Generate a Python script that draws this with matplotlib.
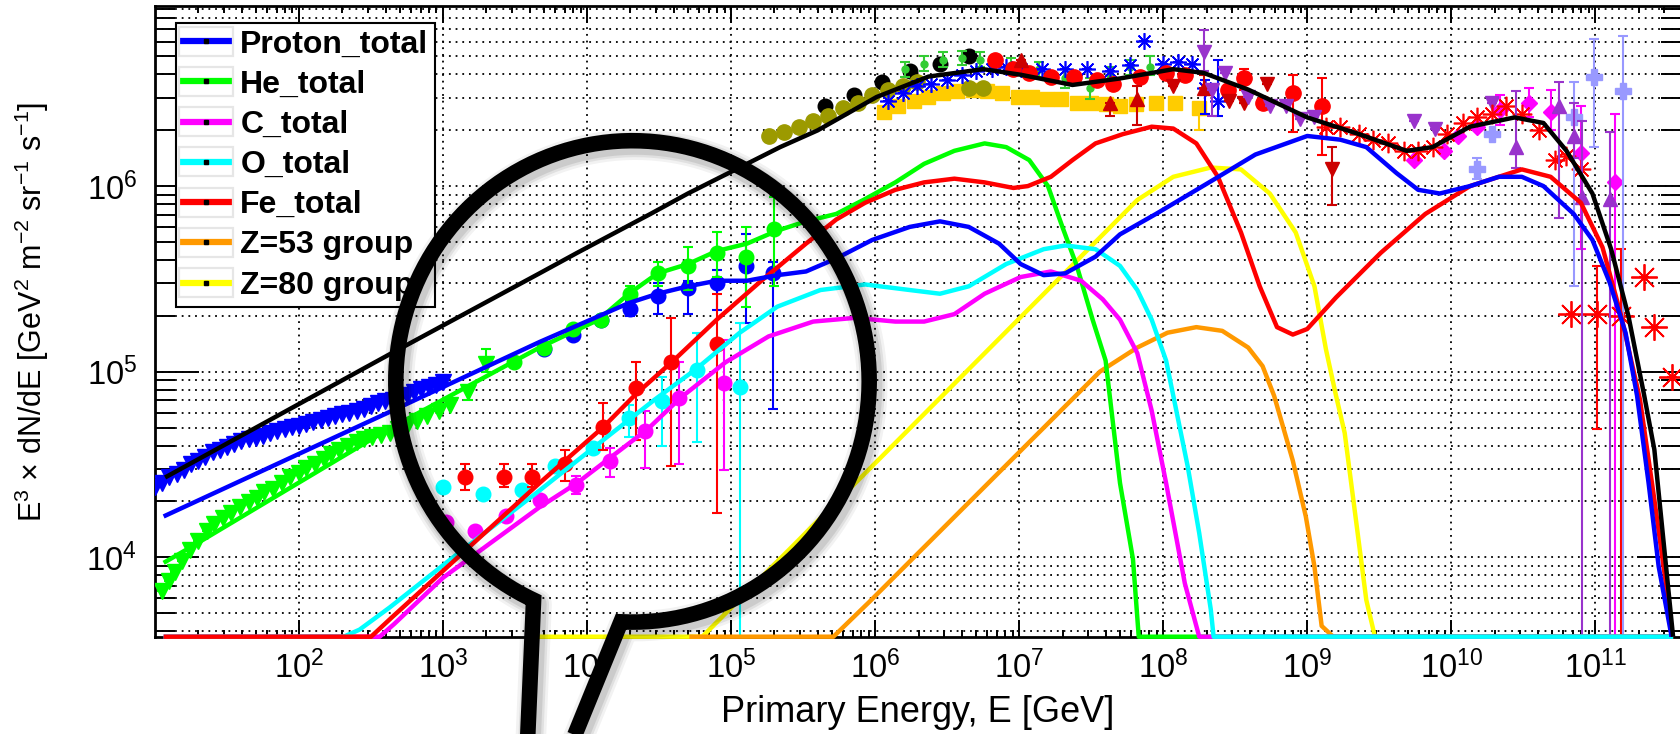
import numpy as np
import matplotlib
matplotlib.use("Agg")
import matplotlib.pyplot as plt
from matplotlib.lines import Line2D
from matplotlib.patches import Rectangle
from matplotlib.ticker import FixedLocator, LogLocator, LogFormatterMathtext, NullFormatter

plt.rcParams["font.family"] = ["Liberation Sans", "DejaVu Sans"]
plt.rcParams["mathtext.default"] = "regular"

# ---------------------------------------------------------------
# Values are log10(E / GeV) and log10(E^3 dN/dE / GeV^2 m^-2 sr^-1 s^-1)
# ---------------------------------------------------------------
FLOOR = 3.572          # lower edge of the flux axis
TOP = 6.972            # upper edge of the flux axis
EMIN, EMAX = 1.0, 11.595

# ----- model curves -----
TOTAL_LOGE = [1.07, 2.62, 3.67, 3.93, 4.44, 4.70, 5.11, 5.34, 5.60, 6.01, 6.37, 6.75, 7.01, 7.37,
              7.70, 8.07, 8.28, 8.59, 9.00, 9.36, 9.69, 9.87, 10.13, 10.44, 10.64, 10.80, 10.98,
              11.11, 11.23, 11.34, 11.41, 11.54]
TOTAL_LOGF = [4.43, 5.09, 5.53, 5.64, 5.85, 5.96, 6.12, 6.21, 6.30, 6.48, 6.59, 6.63, 6.60, 6.545,
              6.58, 6.63, 6.61, 6.52, 6.37, 6.28, 6.19, 6.21, 6.32, 6.37, 6.34, 6.19, 5.96,
              5.66, 5.30, 4.87, 4.58, FLOOR]

PROTON_LOGE = [1.06, 2.62, 3.67, 4.29, 4.49, 4.70, 4.90, 5.11, 5.32, 5.52, 5.73, 5.98, 6.24, 6.45,
               6.65, 6.86, 7.01, 7.17, 7.32, 7.53, 7.70, 7.95, 8.34, 8.64, 9.00, 9.23, 9.41, 9.62,
               9.77, 9.92, 10.13, 10.33, 10.49, 10.64, 10.85, 10.98, 11.10, 11.21, 11.29, 11.37,
               11.44, 11.53]
PROTON_LOGF = [4.22, 4.78, 5.16, 5.37, 5.42, 5.46, 5.49, 5.49, 5.52, 5.54, 5.61, 5.71, 5.78, 5.81,
               5.78, 5.69, 5.58, 5.52, 5.53, 5.62, 5.74, 5.85, 6.03, 6.17, 6.27, 6.25, 6.21, 6.07,
               5.98, 5.96, 6.00, 6.05, 6.05, 6.00, 5.85, 5.71, 5.48, 5.21, 4.87, 4.40,
               3.95, FLOOR]

HELIUM_LOGE = [1.06, 1.26, 2.62, 3.67, 4.08, 4.29, 4.49, 4.70, 4.90, 5.11, 5.32, 5.52, 5.73, 5.93,
               6.14, 6.34, 6.55, 6.76, 6.91, 7.07, 7.20, 7.30, 7.40, 7.51, 7.60, 7.70, 7.79, 7.83,
               11.54]
HELIUM_LOGF = [3.97, 4.06, 4.69, 5.13, 5.28, 5.42, 5.53, 5.58, 5.65, 5.69, 5.76, 5.81, 5.85, 5.93,
               6.02, 6.12, 6.19, 6.23, 6.21, 6.14, 6.00, 5.78, 5.57, 5.28, 5.06, 4.40, 3.99, FLOOR,
               FLOOR]

CARBON_LOGE = [1.06, 2.56, 2.66, 3.00, 3.67, 3.93, 4.42, 4.65, 4.96, 5.26, 5.57, 5.86, 6.14, 6.34,
               6.55, 6.76, 7.01, 7.22, 7.43, 7.58, 7.70, 7.82, 7.92, 8.02, 8.15, 8.25, 11.54]
CARBON_LOGF = [FLOOR, FLOOR, 3.64, 3.89, 4.27, 4.40, 4.69, 4.86, 5.05, 5.19, 5.27, 5.29, 5.27, 5.27,
               5.31, 5.42, 5.51, 5.54, 5.49, 5.39, 5.28, 5.10, 4.79, 4.40, 3.86, FLOOR, FLOOR]

OXYGEN_LOGE = [1.06, 2.31, 2.42, 2.63, 3.07, 3.67, 4.06, 4.47, 4.75, 5.06, 5.32, 5.62, 5.93, 6.24,
               6.45, 6.65, 6.91, 7.17, 7.32, 7.53, 7.70, 7.82, 7.92, 8.02, 8.07, 8.17, 8.25, 8.33,
               8.35, 11.54]
OXYGEN_LOGF = [FLOOR, FLOOR, 3.61, 3.73, 4.00, 4.36, 4.60, 4.85, 5.01, 5.21, 5.35, 5.44, 5.47, 5.44,
               5.42, 5.46, 5.58, 5.66, 5.68, 5.66, 5.57, 5.44, 5.28, 5.06, 4.87, 4.49, 4.13, 3.72,
               FLOOR, FLOOR]

IRON_LOGE = [1.06, 2.50, 2.65, 3.67, 4.11, 4.34, 4.60, 4.90, 5.21, 5.52, 5.73, 5.93, 6.14, 6.34,
             6.55, 6.76, 6.96, 7.06, 7.22, 7.37, 7.53, 7.72, 7.92, 8.07, 8.23, 8.38, 8.54, 8.67,
             8.79, 8.90, 9.00, 9.20, 9.51, 9.82, 10.13, 10.49, 10.69, 10.90, 11.05, 11.18, 11.31,
             11.41, 11.49, 11.53]
IRON_LOGF = [FLOOR, FLOOR, 3.68, 4.40, 4.70, 4.88, 5.06, 5.28, 5.49, 5.69, 5.82, 5.91, 5.98, 6.02,
             6.04, 6.02, 5.99, 6.00, 6.05, 6.14, 6.23, 6.28, 6.32, 6.31, 6.23, 6.05, 5.75, 5.46,
             5.24, 5.20, 5.23, 5.40, 5.64, 5.85, 6.00, 6.09, 6.05, 5.91, 5.67, 5.30, 4.85,
             4.31, 3.86, FLOOR]

Z53_LOGE = [4.71, 5.71, 5.96, 7.56, 7.82, 8.03, 8.23, 8.41, 8.59, 8.69, 8.77, 8.90, 8.99, 9.05,
            9.10, 9.18, 11.54]
Z53_LOGF = [FLOOR, FLOOR, 3.76, 5.00, 5.13, 5.21, 5.24, 5.22, 5.13, 5.03, 4.87, 4.52, 4.22, 3.95,
            3.63, FLOOR, FLOOR]

Z80_LOGE = [3.60, 4.80, 7.82, 8.07, 8.33, 8.54, 8.74, 8.92, 9.05, 9.13, 9.20, 9.26, 9.33, 9.41,
            9.47, 11.54]
Z80_LOGF = [FLOOR, FLOOR, 5.925, 6.05, 6.10, 6.09, 5.96, 5.75, 5.46, 5.12, 4.87, 4.67, 4.25, 3.77,
            FLOOR, FLOOR]

# ----- measurements -----
P_TRI_LOGE = [1.00, 1.05, 1.10, 1.15, 1.20, 1.25, 1.30, 1.35, 1.40, 1.45, 1.50, 1.55, 1.60, 1.65,
              1.70, 1.75, 1.80, 1.85, 1.90, 1.95, 2.00, 2.05, 2.10, 2.15, 2.20, 2.25, 2.30, 2.35,
              2.40, 2.45, 2.50, 2.55, 2.60, 2.65, 2.70, 2.75, 2.80, 2.85, 2.90, 2.95, 3.00]
P_TRI_LOGF = [4.38, 4.40, 4.43, 4.45, 4.47, 4.50, 4.52, 4.54, 4.565, 4.58, 4.595, 4.61, 4.625, 4.635,
              4.645, 4.655, 4.67, 4.68, 4.69, 4.70, 4.71, 4.72, 4.73, 4.74, 4.75, 4.76, 4.77, 4.78,
              4.79, 4.80, 4.815, 4.83, 4.84, 4.85, 4.865, 4.875, 4.89, 4.905, 4.92, 4.93, 4.945]

HE_TRI_LOGE = [1.05, 1.10, 1.14, 1.19, 1.24, 1.30, 1.36, 1.41, 1.47, 1.53, 1.59, 1.65, 1.71, 1.76,
               1.82, 1.88, 1.94, 2.00, 2.05, 2.11, 2.17, 2.22, 2.28, 2.34, 2.40, 2.45, 2.51, 2.57,
               2.63, 2.69, 2.75, 2.82, 2.89, 2.97, 3.05, 3.17, 3.30]
HE_TRI_LOGF = [3.82, 3.87, 3.92, 3.98, 4.04, 4.09, 4.14, 4.18, 4.21, 4.24, 4.27, 4.30, 4.32, 4.35,
               4.37, 4.40, 4.43, 4.455, 4.48, 4.505, 4.53, 4.555, 4.58, 4.60, 4.62, 4.635, 4.65, 4.66,
               4.67, 4.69, 4.71, 4.735, 4.76, 4.79, 4.82, 4.89, 5.04]
HE_TRI_LO = HE_TRI_LOGF[:-2] + [4.85, 5.00]
HE_TRI_HI = HE_TRI_LOGF[:-2] + [4.92, 5.12]

P_DIR_LOGE = [3.70, 3.90, 4.10, 4.30, 4.49, 4.70, 4.90, 5.10, 5.29]
P_DIR_LOGF = [5.12, 5.20, 5.28, 5.34, 5.41, 5.45, 5.48, 5.57, 5.53]
P_DIR_LO = [5.12, 5.20, 5.28, 5.30, 5.31, 5.31, 5.33, 5.26, 4.80]
P_DIR_HI = [5.12, 5.20, 5.28, 5.38, 5.48, 5.49, 5.55, 5.74, 5.59]

HE_DIR_LOGE = [3.49, 3.70, 3.90, 4.10, 4.30, 4.49, 4.70, 4.90, 5.10, 5.30]
HE_DIR_LOGF = [5.05, 5.13, 5.23, 5.28, 5.42, 5.53, 5.57, 5.64, 5.62, 5.77]
HE_DIR_LO = [5.05, 5.13, 5.23, 5.28, 5.39, 5.46, 5.44, 5.51, 5.35, 5.46]
HE_DIR_HI = [5.05, 5.13, 5.23, 5.28, 5.46, 5.59, 5.67, 5.75, 5.78, 5.94]

FE_DIR_LOGE = [3.15, 3.42, 3.62, 3.85, 4.11, 4.34, 4.58, 4.90]
FE_DIR_LOGF = [4.43, 4.43, 4.43, 4.50, 4.70, 4.91, 5.05, 5.15]
FE_DIR_LO = [4.36, 4.38, 4.38, 4.41, 4.58, 4.63, 4.49, 4.24]
FE_DIR_HI = [4.50, 4.50, 4.50, 4.58, 4.83, 5.05, 5.29, 5.42]

O_DIR_LOGE = [3.00, 3.28, 3.55, 3.78, 4.04, 4.29, 4.52, 4.76, 5.06]
O_DIR_LOGF = [4.38, 4.34, 4.36, 4.49, 4.59, 4.75, 4.84, 5.01, 4.92]
O_DIR_LO = [4.38, 4.34, 4.36, 4.49, 4.59, 4.65, 4.60, 4.62, 3.00]
O_DIR_HI = [4.38, 4.34, 4.36, 4.49, 4.59, 4.82, 4.97, 5.21, 5.26]

C_DIR_LOGE = [3.02, 3.22, 3.44, 3.67, 3.92, 4.16, 4.40, 4.64, 4.95]
C_DIR_LOGF = [4.19, 4.14, 4.22, 4.31, 4.39, 4.52, 4.68, 4.86, 4.94]
C_DIR_LO = [4.19, 4.14, 4.22, 4.31, 4.34, 4.43, 4.48, 4.50, 4.47]
C_DIR_HI = [4.19, 4.14, 4.22, 4.31, 4.44, 4.59, 4.79, 5.05, 5.17]

OLIVE_LOGE = [5.26, 5.37, 5.47, 5.57, 5.67, 5.78, 5.88, 5.98, 6.09, 6.19, 6.29, 6.65, 6.75]
OLIVE_LOGF = [6.27, 6.29, 6.32, 6.35, 6.38, 6.42, 6.45, 6.49, 6.52, 6.54, 6.56, 6.53, 6.53]

BLACKDOT_LOGE = [5.65, 5.85, 6.05, 6.24, 6.45, 6.65]
BLACKDOT_LOGF = [6.43, 6.49, 6.56, 6.62, 6.66, 6.70]

GOLD_LOGE = [6.06, 6.16, 6.27, 6.37, 6.47, 6.57, 6.68, 6.78, 6.88, 6.99, 7.09, 7.19, 7.29, 7.40,
             7.50, 7.60, 7.70, 7.81, 7.95, 8.08, 8.25]
GOLD_LOGF = [6.40, 6.43, 6.46, 6.48, 6.50, 6.51, 6.52, 6.51, 6.50, 6.48, 6.48, 6.47, 6.47, 6.45,
             6.45, 6.44, 6.43, 6.44, 6.45, 6.45, 6.42]
GOLD_LO = [6.40, 6.43, 6.46, 6.48, 6.50, 6.51, 6.52, 6.51, 6.50, 6.48, 6.48, 6.47, 6.47, 6.45,
           6.45, 6.44, 6.43, 6.44, 6.45, 6.45, 6.30]
GOLD_HI = GOLD_LOGF

LIME_LOGE = [6.21, 6.34, 6.47, 6.60, 6.73, 6.94, 7.14, 7.32, 7.49, 7.63, 7.77, 7.91]
LIME_LOGF = [6.63, 6.66, 6.68, 6.69, 6.68, 6.65, 6.63, 6.58, 6.53, 6.60, 6.64, 6.64]
LIME_LO = [6.59, 6.62, 6.64, 6.65, 6.64, 6.61, 6.59, 6.53, 6.47, 6.56, 6.60, 6.60]
LIME_HI = [6.67, 6.70, 6.72, 6.73, 6.72, 6.69, 6.67, 6.63, 6.58, 6.64, 6.68, 6.70]

BSTAR_LOGE = [6.09, 6.19, 6.29, 6.39, 6.50, 6.60, 6.70, 6.81, 6.91, 7.01, 7.16, 7.32, 7.47, 7.63,
              7.77, 7.87, 8.00, 8.10, 8.20, 8.29, 8.38]
BSTAR_LOGF = [6.46, 6.50, 6.54, 6.55, 6.57, 6.60, 6.62, 6.63, 6.64, 6.63, 6.63, 6.63, 6.63, 6.62,
              6.65, 6.78, 6.66, 6.67, 6.66, 6.53, 6.46]
BSTAR_LO = BSTAR_LOGF[:-2] + [6.39, 6.38]
BSTAR_HI = BSTAR_LOGF[:-2] + [6.57, 6.68]

RDOT_LOGE = [6.83, 6.96, 7.07, 7.22, 7.38, 7.54, 7.65, 7.84, 8.02, 8.15, 8.45, 8.56, 8.69, 8.90, 9.10]
RDOT_LOGF = [6.68, 6.63, 6.61, 6.59, 6.59, 6.57, 6.55, 6.59, 6.61, 6.60, 6.52, 6.58, 6.45, 6.50, 6.43]
RDOT_LO = [6.68, 6.63, 6.61, 6.59, 6.59, 6.57, 6.55, 6.59, 6.61, 6.60, 6.52, 6.52, 6.45, 6.29, 6.17]
RDOT_HI = [6.68, 6.63, 6.61, 6.59, 6.59, 6.57, 6.55, 6.59, 6.61, 6.60, 6.52, 6.63, 6.45, 6.60, 6.58]

DKUP_LOGE = [7.01, 7.63, 7.82, 8.28]
DKUP_LOGF = [6.68, 6.45, 6.47, 6.53]
DKUP_LO = [6.68, 6.38, 6.33, 6.53]
DKUP_HI = [6.68, 6.45, 6.54, 6.60]

DKDN_LOGE = [8.07, 8.46, 8.56, 8.72, 9.17]
DKDN_LOGF = [6.54, 6.46, 6.45, 6.55, 6.09]
DKDN_LO = [6.54, 6.46, 6.45, 6.55, 5.90]
DKDN_HI = [6.54, 6.46, 6.45, 6.55, 6.21]

PDN_LOGE = [8.28, 8.34, 8.43, 8.59, 8.74, 8.85, 8.95, 9.05, 9.74, 9.89, 10.28]
PDN_LOGF = [6.72, 6.52, 6.61, 6.48, 6.43, 6.43, 6.36, 6.37, 6.35, 6.31, 6.45]
PDN_LO = [6.62, 6.38, 6.61, 6.48, 6.43, 6.43, 6.36, 6.37, 6.35, 6.31, 6.45]
PDN_HI = [6.84, 6.52, 6.61, 6.48, 6.43, 6.43, 6.36, 6.37, 6.35, 6.31, 6.45]

RSTAR_LOGE = [9.13, 9.23, 9.36, 9.46, 9.56, 9.67, 9.77, 9.87, 9.97, 10.08, 10.18, 10.28, 10.38,
              10.49, 10.61, 10.72, 10.80, 10.90]
RSTAR_LOGF = [6.32, 6.32, 6.28, 6.25, 6.23, 6.19, 6.19, 6.21, 6.28, 6.34, 6.37, 6.39, 6.43,
              6.39, 6.30, 6.14, 6.16, 6.09]

RSTAR_HE_LOGE = [10.83, 11.01, 11.18, 11.34, 11.41, 11.53]
RSTAR_HE_LOGF = [5.31, 5.31, 5.30, 5.51, 5.24, 4.97]
RSTAR_HE_LO = [5.31, 4.69, 3.00, 5.51, 5.24, 4.97]
RSTAR_HE_HI = [5.31, 5.57, 5.66, 5.51, 5.24, 4.97]

MAGD_LOGE = [9.74, 9.95, 10.05, 10.18, 10.34, 10.54, 10.69, 10.90, 11.14]
MAGD_LOGF = [6.14, 6.19, 6.27, 6.32, 6.41, 6.45, 6.40, 6.18, 6.02]
MAGD_LO = [6.14, 6.19, 6.27, 6.32, 6.33, 6.37, 6.30, 5.66, 3.00]
MAGD_HI = [6.14, 6.19, 6.27, 6.32, 6.49, 6.53, 6.52, 6.43, 6.39]

LAV_LOGE = [10.18, 10.28, 10.85, 10.99, 11.19]
LAV_LOGF = [6.09, 6.28, 6.37, 6.59, 6.51]
LAV_LO = [6.04, 6.28, 5.46, 6.21, 3.00]
LAV_HI = [6.15, 6.28, 6.56, 6.79, 6.81]

PUP_LOGE = [10.45, 10.75, 10.85, 10.91, 11.10]
PUP_LOGF = [6.21, 6.43, 6.27, 5.94, 5.93]
PUP_LO = [6.10, 5.83, 6.15, 3.00, 3.00]
PUP_HI = [6.51, 6.56, 6.45, 6.35, 6.29]

LEGEND_LABELS = ["Proton_total", "He_total", "C_total", "O_total", "Fe_total",
                 "Z=53 group", "Z=80 group"]

BLUE, GREEN, MAGENTA, CYAN, RED = "#0000ff", "#00ff00", "#ff00ff", "#00ffff", "#ff0000"
ORANGE, YELLOW = "#ff9900", "#ffff00"
OLIVE, GOLD, LIME, DKRED, PURPLE, LAVENDER = "#9c9a00", "#ffcc00", "#33cc33", "#cc0000", "#9933cc", "#9999ff"
ASTERISK = (8, 2, 0)

# ---------------------------------------------------------------
W, H = 1680, 734
fig = plt.figure(figsize=(W / 100, H / 100), dpi=100)
ax_l, ax_r, ax_b, ax_t = 155, 1681, 636.7, 5.7
ax = fig.add_axes([ax_l / W, 1 - ax_b / H, (ax_r - ax_l) / W, (ax_b - ax_t) / H])
ax.set_xscale("log")
ax.set_yscale("log")
ax.set_xlim(10 ** EMIN, 10 ** EMAX)
ax.set_ylim(10 ** FLOOR, 10 ** TOP)


def draw_points(loge, logf, color, marker, ms, lo=None, hi=None, mew=1.0, z=3, elw=1.5, cap=3.5):
    e = 10.0 ** np.asarray(loge)
    f = 10.0 ** np.asarray(logf)
    if lo is not None:
        flo = 10.0 ** np.asarray(lo)
        fhi = 10.0 ** np.asarray(hi)
        ax.errorbar(e, f, yerr=[f - flo, fhi - f], fmt="none", ecolor=color,
                    elinewidth=elw, capsize=cap, capthick=elw, zorder=z)
    ax.plot(e, f, ls="none", marker=marker, ms=ms, color=color, mfc=color,
            mec=color, mew=mew, zorder=z)


def draw_curve(loge, logf, color, z, lw=3.2):
    ax.plot(10.0 ** np.asarray(loge), 10.0 ** np.maximum(np.asarray(logf), FLOOR),
            color=color, lw=lw, clip_on=False, zorder=z, solid_joinstyle="round",
            solid_capstyle="butt")


# low-energy spectra
draw_points(P_TRI_LOGE, P_TRI_LOGF, BLUE, "v", 11)
draw_points(HE_TRI_LOGE, HE_TRI_LOGF, GREEN, "v", 11, HE_TRI_LO, HE_TRI_HI)
# direct measurements
draw_points(P_DIR_LOGE, P_DIR_LOGF, BLUE, "o", 10.5, P_DIR_LO, P_DIR_HI)
draw_points(HE_DIR_LOGE, HE_DIR_LOGF, GREEN, "o", 10.5, HE_DIR_LO, HE_DIR_HI)
draw_points(C_DIR_LOGE, C_DIR_LOGF, MAGENTA, "o", 10.5, C_DIR_LO, C_DIR_HI)
draw_points(O_DIR_LOGE, O_DIR_LOGF, CYAN, "o", 10.5, O_DIR_LO, O_DIR_HI)
draw_points(FE_DIR_LOGE, FE_DIR_LOGF, RED, "o", 10.5, FE_DIR_LO, FE_DIR_HI)
# air-shower all-particle data
draw_points(GOLD_LOGE, GOLD_LOGF, GOLD, "s", 10, GOLD_LO, GOLD_HI)
draw_points(BLACKDOT_LOGE, BLACKDOT_LOGF, "k", "o", 10.5)
draw_points(OLIVE_LOGE, OLIVE_LOGF, OLIVE, "o", 11)
draw_points(LIME_LOGE, LIME_LOGF, LIME, "o", 5, LIME_LO, LIME_HI)
draw_points(BSTAR_LOGE, BSTAR_LOGF, BLUE, ASTERISK, 12, BSTAR_LO, BSTAR_HI, mew=1.2)
draw_points(RDOT_LOGE, RDOT_LOGF, RED, "o", 11, RDOT_LO, RDOT_HI)
draw_points(DKUP_LOGE, DKUP_LOGF, DKRED, "^", 10, DKUP_LO, DKUP_HI)
draw_points(DKDN_LOGE, DKDN_LOGF, DKRED, "v", 10, DKDN_LO, DKDN_HI)
draw_points(PDN_LOGE, PDN_LOGF, PURPLE, "v", 10, PDN_LO, PDN_HI)
draw_points(MAGD_LOGE, MAGD_LOGF, MAGENTA, "D", 8, MAGD_LO, MAGD_HI)
draw_points(RSTAR_LOGE, RSTAR_LOGF, RED, ASTERISK, 14, mew=1.2)
draw_points(RSTAR_HE_LOGE, RSTAR_HE_LOGF, RED, ASTERISK, 19, RSTAR_HE_LO, RSTAR_HE_HI, mew=1.3)
draw_points(LAV_LOGE, LAV_LOGF, LAVENDER, "P", 11, LAV_LO, LAV_HI)
draw_points(PUP_LOGE, PUP_LOGF, PURPLE, "^", 10, PUP_LO, PUP_HI)

# model curves (stacking order matters where they run along the floor)
draw_curve(Z80_LOGE, Z80_LOGF, YELLOW, 4.0)
draw_curve(Z53_LOGE, Z53_LOGF, ORANGE, 4.1)
draw_curve(HELIUM_LOGE, HELIUM_LOGF, GREEN, 4.2)
draw_curve(CARBON_LOGE, CARBON_LOGF, MAGENTA, 4.3)
draw_curve(OXYGEN_LOGE, OXYGEN_LOGF, CYAN, 4.4)
draw_curve(IRON_LOGE, IRON_LOGF, RED, 4.5)
draw_curve(PROTON_LOGE, PROTON_LOGF, BLUE, 4.6)
draw_curve(TOTAL_LOGE, TOTAL_LOGF, "k", 4.8)

# axes styling
ax.xaxis.set_major_locator(FixedLocator([10.0 ** k for k in range(2, 12)]))
ax.xaxis.set_minor_locator(LogLocator(base=10, subs=np.arange(2, 10), numticks=60))
ax.yaxis.set_major_locator(FixedLocator([1e4, 1e5, 1e6]))
ax.yaxis.set_minor_locator(LogLocator(base=10, subs=np.arange(2, 10), numticks=60))
ax.xaxis.set_major_formatter(LogFormatterMathtext())
ax.yaxis.set_major_formatter(LogFormatterMathtext())
ax.xaxis.set_minor_formatter(NullFormatter())
ax.yaxis.set_minor_formatter(NullFormatter())

grid_kw = dict(color="k", ls=(0, (1, 2.7)), lw=1.3)
ax.grid(True, which="major", axis="both", **grid_kw)
ax.grid(True, which="minor", axis="y", **grid_kw)
ax.set_axisbelow(True)

ax.tick_params(axis="both", which="both", direction="in", top=True, right=True,
               width=1.4, colors="k")
ax.tick_params(axis="x", which="major", length=12, pad=10, labelsize=23.5)
ax.tick_params(axis="x", which="minor", length=5)
ax.tick_params(axis="y", which="major", length=32, pad=13, labelsize=23.5)
ax.tick_params(axis="y", which="minor", length=14.5)
for sp in ax.spines.values():
    sp.set_linewidth(2.0)

ax.set_xlabel("Primary Energy, E [GeV]", fontsize=26)
ax.xaxis.set_label_coords(0.5, -0.092)
ax.set_ylabel(r"E$^3$ × dN/dE [GeV$^2$ m$^{-2}$ sr$^{-1}$ s$^{-1}$]", fontsize=22, va="center")
ax.yaxis.set_label_coords(-0.0807, 0.515)

# legend
colors = [BLUE, GREEN, MAGENTA, CYAN, RED, ORANGE, YELLOW]
handles = [Line2D([], [], color=c, lw=4.5, marker="s", ms=2.3, mfc="k", mec="k") for c in colors]
leg = ax.legend(handles, LEGEND_LABELS, loc="upper left", bbox_to_anchor=(0.0138, 0.9726),
                borderaxespad=0, frameon=True, fancybox=False, edgecolor="k", framealpha=1,
                prop=dict(family="Liberation Sans", weight="bold", size=23),
                handlelength=1.47, handletextpad=0.34, borderpad=0.2, labelspacing=0.32,
                numpoints=1)
leg.get_frame().set_linewidth(1.5)
leg.set_zorder(20)

# overlay in figure pixels: handle boxes of the legend and the magnifying glass
ov = fig.add_axes([0, 0, 1, 1], zorder=10)
ov.set_xlim(0, W)
ov.set_ylim(H, 0)
ov.axis("off")
ov.patch.set_visible(False)

fig.canvas.draw()
renderer = fig.canvas.get_renderer()
for line in leg.get_lines():
    bb = line.get_window_extent(renderer)
    cy = H - 0.5 * (bb.y0 + bb.y1)
    ov.add_patch(Rectangle((bb.x0 - 2, cy - 14.5), (bb.x1 - bb.x0) + 4, 29, fill=False,
                           ec="#e6e6e6", lw=1.6, zorder=1))

LENS_CX, LENS_CY, LENS_RX, LENS_RY = 632.5, 381.4, 236.7, 240.7
theta = np.radians(np.linspace(267.2, 605.3, 300))
ring_x = LENS_CX + LENS_RX * np.cos(theta)
ring_y = LENS_CY - LENS_RY * np.sin(theta)
px = np.concatenate([[564.6], ring_x, [526.7]])
py = np.concatenate([[760.0], ring_y, [760.0]])
for w, a in [(22, 0.05), (18, 0.07), (14.5, 0.09)]:
    ov.plot(px + 3, py + 4, color="k", alpha=a, lw=w, solid_joinstyle="round", clip_on=False,
            zorder=2)
ov.plot(px, py, color="k", lw=11.2, solid_joinstyle="miter", solid_capstyle="butt",
        clip_on=False, zorder=3)

fig.savefig("out.png", dpi=100)
